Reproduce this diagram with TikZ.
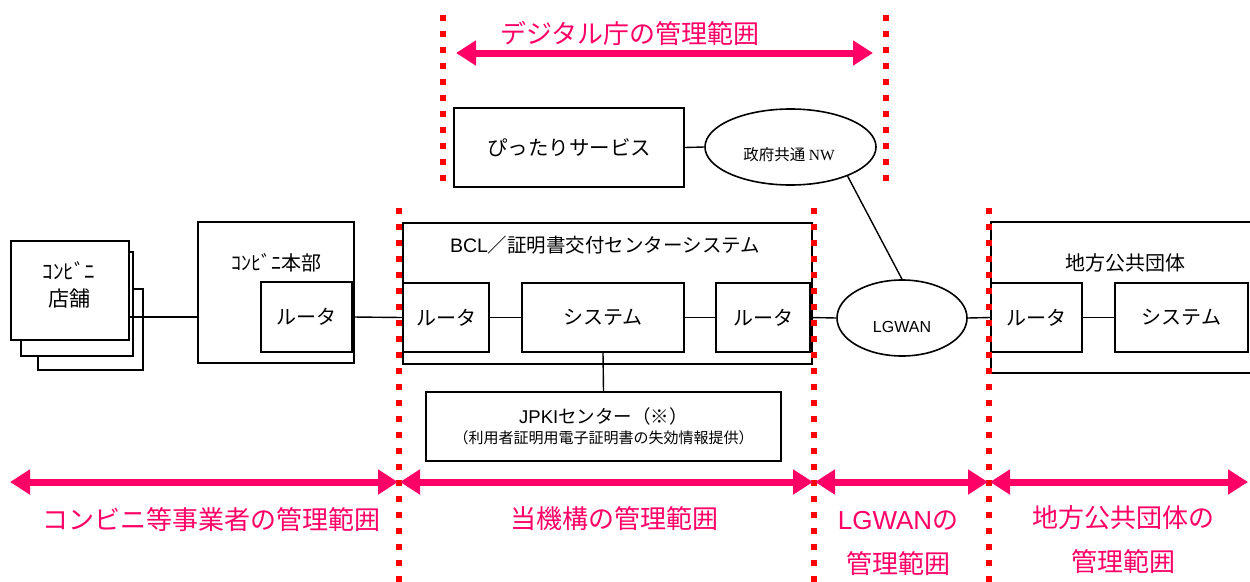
\documentclass[tikz,border=0pt]{standalone}
\usepackage{fontspec}
\setmainfont{Noto Sans CJK JP}
\newfontfamily\latinfont{Liberation Sans}
\newfontfamily\nwfont{Liberation Serif}
\usetikzlibrary{shapes.geometric,arrows.meta}
\definecolor{rangepink}{RGB}{255,0,102}
\definecolor{borderred}{RGB}{255,0,0}

\begin{document}
\begin{tikzpicture}[x=1pt,y=-1pt,
  box/.style={draw,line width=1.6pt,fill=white,inner sep=0pt,font=\fontsize{20}{20}\selectfont},
  net/.style={draw,ellipse,line width=1.6pt,fill=white,inner sep=0pt},
  link/.style={line width=1.4pt},
  border/.style={draw=borderred,line width=6pt,dash pattern=on 6pt off 10pt},
  scoperange/.style={draw=rangepink,line width=7pt,shorten <=1pt,shorten >=1pt,
    {Triangle[length=20pt,width=24pt]}-{Triangle[length=20pt,width=24pt]}},
  rangetext/.style={text=rangepink,font=\fontsize{26}{44}\selectfont,align=center}]
\clip (0,0) rectangle (1250,581);

% stores
\node[box,minimum width=105pt,minimum height=81pt] (shop3) at (90.5,329.5) {};
\node[box,minimum width=112pt,minimum height=104pt] (shop2) at (77,304) {};
\node[box,minimum width=118pt,minimum height=99pt] (shop1) at (70,290.5) {};
\node[font=\fontsize{21}{27}\selectfont,align=center] (shoptext) at (69,284.5) {ｺﾝﾋﾞﾆ\\店舗};

% head office
\node[box,minimum width=156pt,minimum height=141pt] (hq) at (276,292.5) {};
\node[font=\fontsize{20}{20}\selectfont] (hqtitle) at (276,263) {ｺﾝﾋﾞﾆ本部};
\node[box,minimum width=91pt,minimum height=70pt] (hqrt) at (306.5,317) {ルータ};

%-------------------------------------
\node[box,minimum width=409pt,minimum height=141pt] (bcl) at (607.5,293.5) {};
\node[font=\fontsize{19.5}{19.5}\selectfont] (bcltitle) at (605,245) {{\latinfont BCL}／証明書交付センターシステム};
\node[box,minimum width=86pt,minimum height=69pt] (bclrt1) at (446,317.5) {ルータ};
\node[box,minimum width=162pt,minimum height=69pt] (bclsys) at (603,317.5) {システム};
\node[box,minimum width=94pt,minimum height=69pt] (bclrt2) at (763,317.5) {ルータ};
\node[box,minimum width=355pt,minimum height=69pt,align=center] (jpki) at (603.5,426.5)
  {\fontsize{18.5}{24}\selectfont{\latinfont JPKI}センター（※）\\
   \fontsize{15}{18}\selectfont（利用者証明用電子証明書の失効情報提供）};

%-------------------------------------
\node[box,minimum width=230pt,minimum height=79pt,font=\fontsize{20.5}{20.5}\selectfont] (pittari) at (569,147.5) {ぴったりサービス};
\node[net,minimum width=171pt,minimum height=76pt] (nw) at (790.5,147) {};
\node[font=\fontsize{15.5}{15.5}\selectfont] (nwtext) at (789,155) {政府共通 {\nwfont NW}};
\node[net,minimum width=130pt,minimum height=76pt] (lg) at (902,318) {};
\node[font=\latinfont\fontsize{16}{16}\selectfont] (lgtext) at (902,327) {LGWAN};

%-------------------------------------
\node[box,minimum width=269pt,minimum height=151pt] (local) at (1125.5,297.5) {};
\node[font=\fontsize{20}{20}\selectfont] (localtitle) at (1125,263) {地方公共団体};
\node[box,minimum width=91pt,minimum height=69pt] (locrt) at (1036.5,317.5) {ルータ};
\node[box,minimum width=133pt,minimum height=69pt] (locsys) at (1181.5,317.5) {システム};

% connections
\draw[link] (shop1.east |- hqrt.west) -- (hq.west |- hqrt.west);
\draw[link] (hqrt.east) -- (bclrt1.west);
\draw[link] (bclrt1.east) -- (bclsys.west);
\draw[link] (bclsys.east) -- (bclrt2.west);
\draw[link] (bclrt2.east) -- (lg.west);
\draw[link] (lg.east) -- (locrt.west);
\draw[link] (locrt.east) -- (locsys.west);
\draw[link] (bclsys.south) -- (jpki.north);
\draw[link] (pittari.east) -- (nw.west);
\draw[link] (nw.-27) -- (lg.north);

% borders of the ranges
\draw[border] (443,15) -- (443,185);
\draw[border] (886,15) -- (886,185);
\draw[border] (399,208) -- (399,590);
\draw[border] (814,208) -- (814,590);
\draw[border] (989,208) -- (989,590);

% ranges
\coordinate (dl) at (455,53);
\coordinate (dr) at (874,53);
\coordinate (r0) at (9,482);
\coordinate (r1) at (399,482);
\coordinate (r2) at (814,482);
\coordinate (r3) at (989,482);
\coordinate (r4) at (1249,482);
\draw[scoperange] (dl) -- (dr);
\draw[scoperange] (r0) -- (r1);
\draw[scoperange] (r1) -- (r2);
\draw[scoperange] (r2) -- (r3);
\draw[scoperange] (r3) -- (r4);

\node[rangetext] (digital) at (630,33) {デジタル庁の管理範囲};
\node[rangetext] (cvs) at (211,520) {コンビニ等事業者の管理範囲};
\node[rangetext] (jlis) at (614.5,519) {当機構の管理範囲};
\node[rangetext] (lgwan) at (898,543.5) {{\latinfont LGWAN}の\\管理範囲};
\node[rangetext] (pref) at (1123,540) {地方公共団体の\\管理範囲};
\end{tikzpicture}
\end{document}
